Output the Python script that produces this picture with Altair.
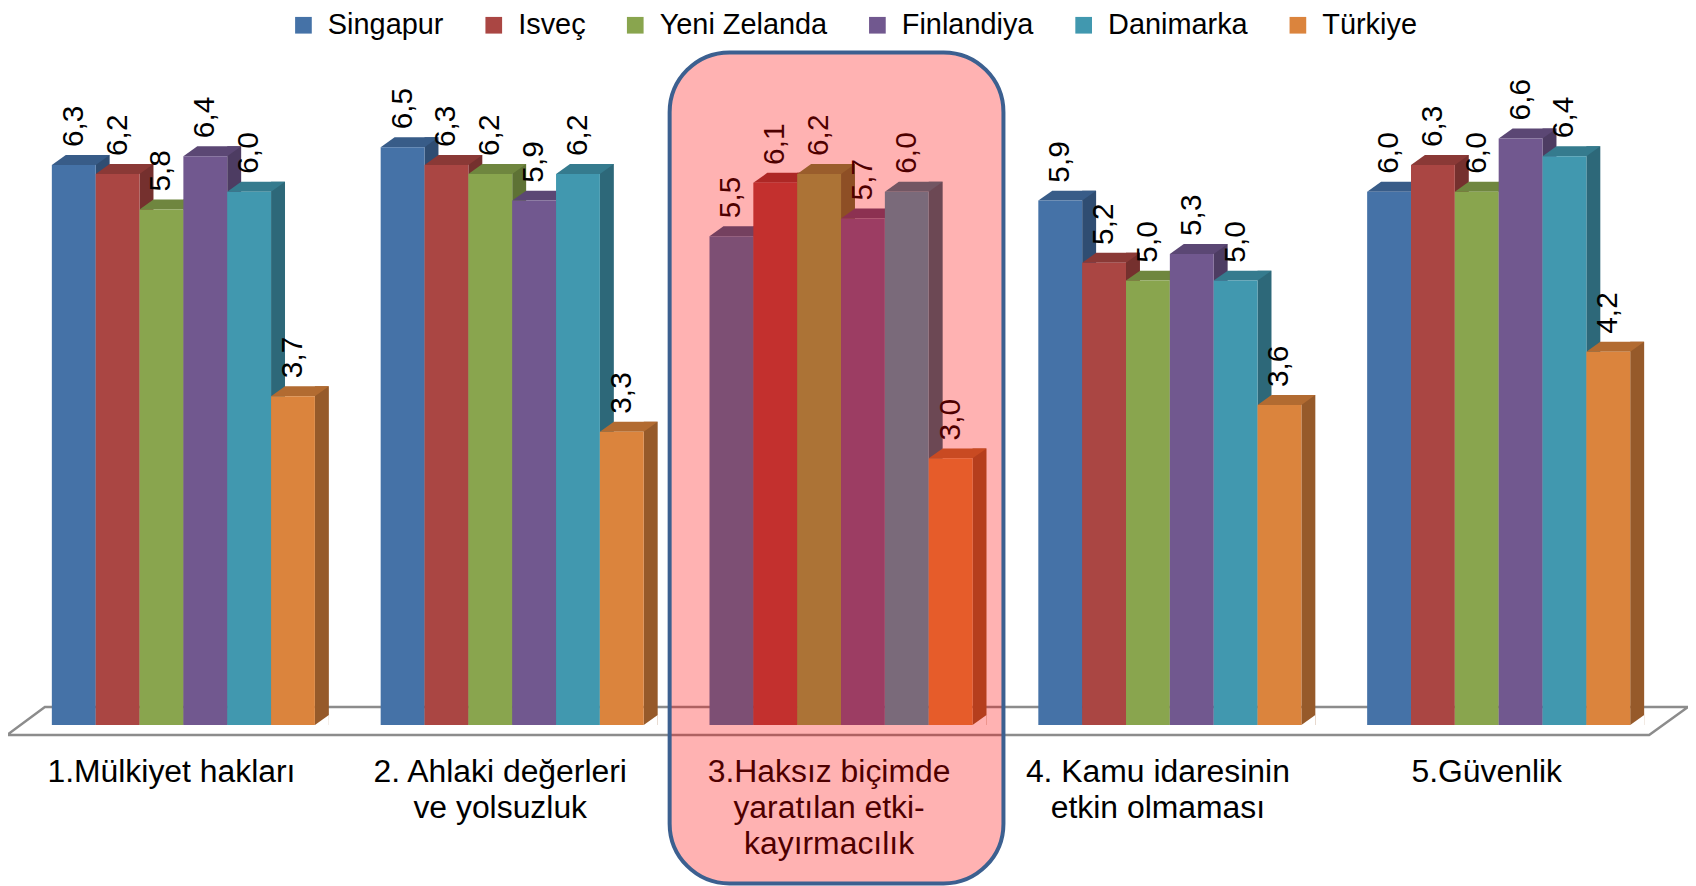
import altair as alt
import pandas as pd

# ---------------- data ----------------
categories = [
    "1.Mülkiyet hakları",
    "2. Ahlaki değerleri\nve yolsuzluk",
    "3.Haksız biçimde\nyaratılan etki-\nkayırmacılık",
    "4. Kamu idaresinin\netkin olmaması",
    "5.Güvenlik",
]
series = ["Singapur", "Isveç", "Yeni Zelanda", "Finlandiya", "Danimarka", "Türkiye"]
singapur = [6.3, 6.5, 5.5, 5.9, 6.0]
isvec = [6.2, 6.3, 6.1, 5.2, 6.3]
yeni_zelanda = [5.8, 6.2, 6.2, 5.0, 6.0]
finlandiya = [6.4, 5.9, 5.7, 5.3, 6.6]
danimarka = [6.0, 6.2, 6.0, 5.0, 6.4]
turkiye = [3.7, 3.3, 3.0, 3.6, 4.2]
highlight_index = 2

# ---------------- styles ----------------
front_colors = ["#4572A7", "#AA4643", "#89A54E", "#71588F", "#4198AF", "#DB843D"]
top_colors = ["#385C88", "#8A3936", "#6F863F", "#5B4774", "#357B8E", "#B26B31"]
side_colors = ["#2F4D72", "#75302E", "#5E7235", "#4D3C62", "#2D6879", "#965A2A"]
FONT = "Liberation Sans"

BAR_PX = 44          # pixel width of one bar (1 x-unit)
DEPTH_X, DEPTH_Y = 14, 10
GROUP_STEP = 330 / BAR_PX
W, H = 1686, 862
X_DOMAIN = [-1, -1 + W / BAR_PX]
BASE_PX = 702
UNIT_PX = 89.2
Y_DOMAIN = [-(H - BASE_PX) / UNIT_PX, BASE_PX / UNIT_PX]

values_by_series = [singapur, isvec, yeni_zelanda, finlandiya, danimarka, turkiye]
rows = []
for si, (s, vals) in enumerate(zip(series, values_by_series)):
    for gi, v in enumerate(vals):
        slot = gi * GROUP_STEP + si
        rows.append({
            "series": s,
            "category": categories[gi],
            "value": v,
            "label": f"{v:.1f}".replace(".", ","),
            "slot": slot,
            "slot_r": slot + 1,
            "slot_c": slot + 0.5,
            "zero": 0,
            "top_color": top_colors[si],
            "side_color": side_colors[si],
        })
df = pd.DataFrame(rows)

cat_df = pd.DataFrame({
    "category": categories,
    "center": [gi * GROUP_STEP + 3 for gi in range(len(categories))],
})
hl_df = pd.DataFrame({
    "gs": [highlight_index * GROUP_STEP],
    "ge": [highlight_index * GROUP_STEP + len(series)],
})
floor_df = pd.DataFrame({"x": [0], "y": [0]})

xs = alt.Scale(domain=X_DOMAIN, nice=False, zero=False)
ys = alt.Scale(domain=Y_DOMAIN, nice=False, zero=False)

FLOOR_PATH = "M -7 -18 L 1642 -18 L 1603 10 L -45 10 Z"
TOP_PATH = f"M 0 0 L {BAR_PX} 0 L {BAR_PX + DEPTH_X} {-DEPTH_Y} L {DEPTH_X} {-DEPTH_Y} Z"
TRI_PATH = f"M 0 0 L {DEPTH_X} {-DEPTH_Y} L {DEPTH_X} 0 Z"

base = alt.Chart(df)

floor = alt.Chart(floor_df).mark_point(
    shape=FLOOR_PATH, size=4, filled=True, fill="white", stroke="#8c8c8c",
    strokeWidth=2.5, opacity=1
).encode(
    x=alt.X("x:Q", scale=xs, axis=None),
    y=alt.Y("y:Q", scale=ys, axis=None),
)

side = base.mark_rect(x2Offset=DEPTH_X, yOffset=-DEPTH_Y).encode(
    x=alt.X("slot_r:Q", scale=xs, axis=None),
    x2="slot_r",
    y=alt.Y("value:Q", scale=ys, axis=None),
    y2="zero",
    color=alt.Color("side_color:N", scale=None),
)

tri = base.mark_point(
    shape=TRI_PATH, size=4, filled=True, fill="white", opacity=1, strokeWidth=0
).encode(
    x=alt.X("slot_r:Q", scale=xs, axis=None),
    y=alt.Y("zero:Q", scale=ys, axis=None),
)

top = base.mark_point(
    shape=TOP_PATH, size=4, filled=True, opacity=1, strokeWidth=0
).encode(
    x=alt.X("slot:Q", scale=xs, axis=None),
    y=alt.Y("value:Q", scale=ys, axis=None),
    color=alt.Color("top_color:N", scale=None),
)

front = base.mark_rect().encode(
    x=alt.X("slot:Q", scale=xs, axis=None),
    x2="slot_r",
    y=alt.Y("value:Q", scale=ys, axis=None),
    y2="zero",
    color=alt.Color(
        "series:N",
        sort=series,
        scale=alt.Scale(domain=series, range=front_colors),
        legend=alt.Legend(
            orient="none", legendX=282, legendY=-15, direction="horizontal",
            columns=6, title=None, symbolType="square", symbolSize=280,
            symbolStrokeWidth=0, symbolOpacity=1, labelFontSize=29,
            labelFont=FONT, labelColor="black", columnPadding=35,
            labelOffset=10, padding=0, labelLimit=400,
        ),
    ),
)

value_labels = base.mark_text(
    angle=270, align="left", baseline="middle", yOffset=-18,
    fontSize=30, font=FONT, color="black"
).encode(
    x=alt.X("slot_c:Q", scale=xs, axis=None),
    y=alt.Y("value:Q", scale=ys, axis=None),
    text="label:N",
)

cat_labels = alt.Chart(cat_df).mark_text(
    align="center", baseline="alphabetic", lineBreak="\n", lineHeight=36,
    fontSize=32, font=FONT, color="black", xOffset=-12
).encode(
    x=alt.X("center:Q", scale=xs, axis=None),
    y=alt.value(759),
    text="category:N",
)

overlay = alt.Chart(hl_df).mark_rect(
    cornerRadius=60, fill="#FF0000", fillOpacity=0.3, stroke="#3C6090",
    strokeWidth=4, xOffset=-40, x2Offset=31
).encode(
    x=alt.X("gs:Q", scale=xs, axis=None),
    x2="ge",
    y=alt.value(27),
    y2=alt.value(861),
)

chart = alt.layer(
    floor, side, tri, top, front, value_labels, cat_labels, overlay
).properties(
    width=W, height=H,
    autosize=alt.AutoSizeParams(type="none"),
    padding={"left": 0, "top": 16, "right": 0, "bottom": 0},
).configure_view(stroke=None)

chart.save("out.html", embed_options={"renderer": "svg", "actions": False})
